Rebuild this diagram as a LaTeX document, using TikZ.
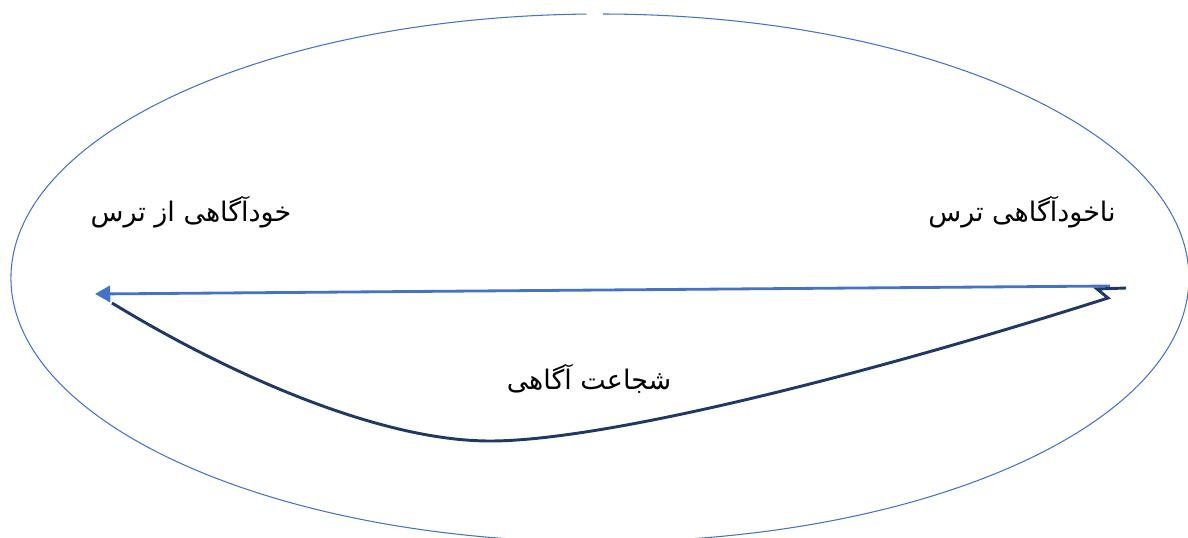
\documentclass[tikz,border=0pt]{standalone}
\usepackage{fontspec}
\usetikzlibrary{arrows.meta,calc}
\TeXXeTstate=1
\newfontfamily\arabicfont[Script=Arabic]{DejaVu Sans}
\definecolor{ellblue}{HTML}{4472C4}
\definecolor{navy}{HTML}{203864}
\tikzset{
  ellline/.style={draw=ellblue, line width=0.9pt},
  arrline/.style={draw=ellblue, line width=2.4pt, -{Triangle[length=13pt,width=14pt]}},
  navyline/.style={draw=navy, line width=2.5pt, line join=miter},
  lbl/.style={font=\arabicfont\fontsize{23}{26}\selectfont, inner sep=0pt, anchor=center}
}
\begin{document}
\begin{tikzpicture}[x=0.03cm, y=-0.03cm]
\useasboundingbox (0,0) rectangle (1188,537);
% ellipse with small gap at top
\draw[ellline] (603,14) arc[start angle=-89.7, end angle=268.7, x radius=589, y radius=264];
% coordinates
\coordinate (aS) at (1110,286);
\coordinate (aE) at (95,294);
\coordinate (nA) at (1126,288);
\coordinate (nB) at (1097,289);
\coordinate (nC) at (1108,298);
\coordinate (nBot) at (490,441);
\coordinate (nEnd) at (112,303);
% arrow
\draw[arrline] (aS) -- (aE);
% navy curve
\draw[navyline] (nA) -- (nB) -- (nC)
  .. controls (850,380) and (600,441) .. (nBot)
  .. controls (380,441) and (230,375) .. (nEnd);
% labels
\node[lbl] (left) at (191,212) {\beginR خودآگاهی از ترس\endR};
\node[lbl] (right) at (1022,212) {\beginR ناخودآگاهی ترس\endR};
\node[lbl] (mid) at (589,379) {\beginR شجاعت آگاهی\endR};
\end{tikzpicture}
\end{document}
